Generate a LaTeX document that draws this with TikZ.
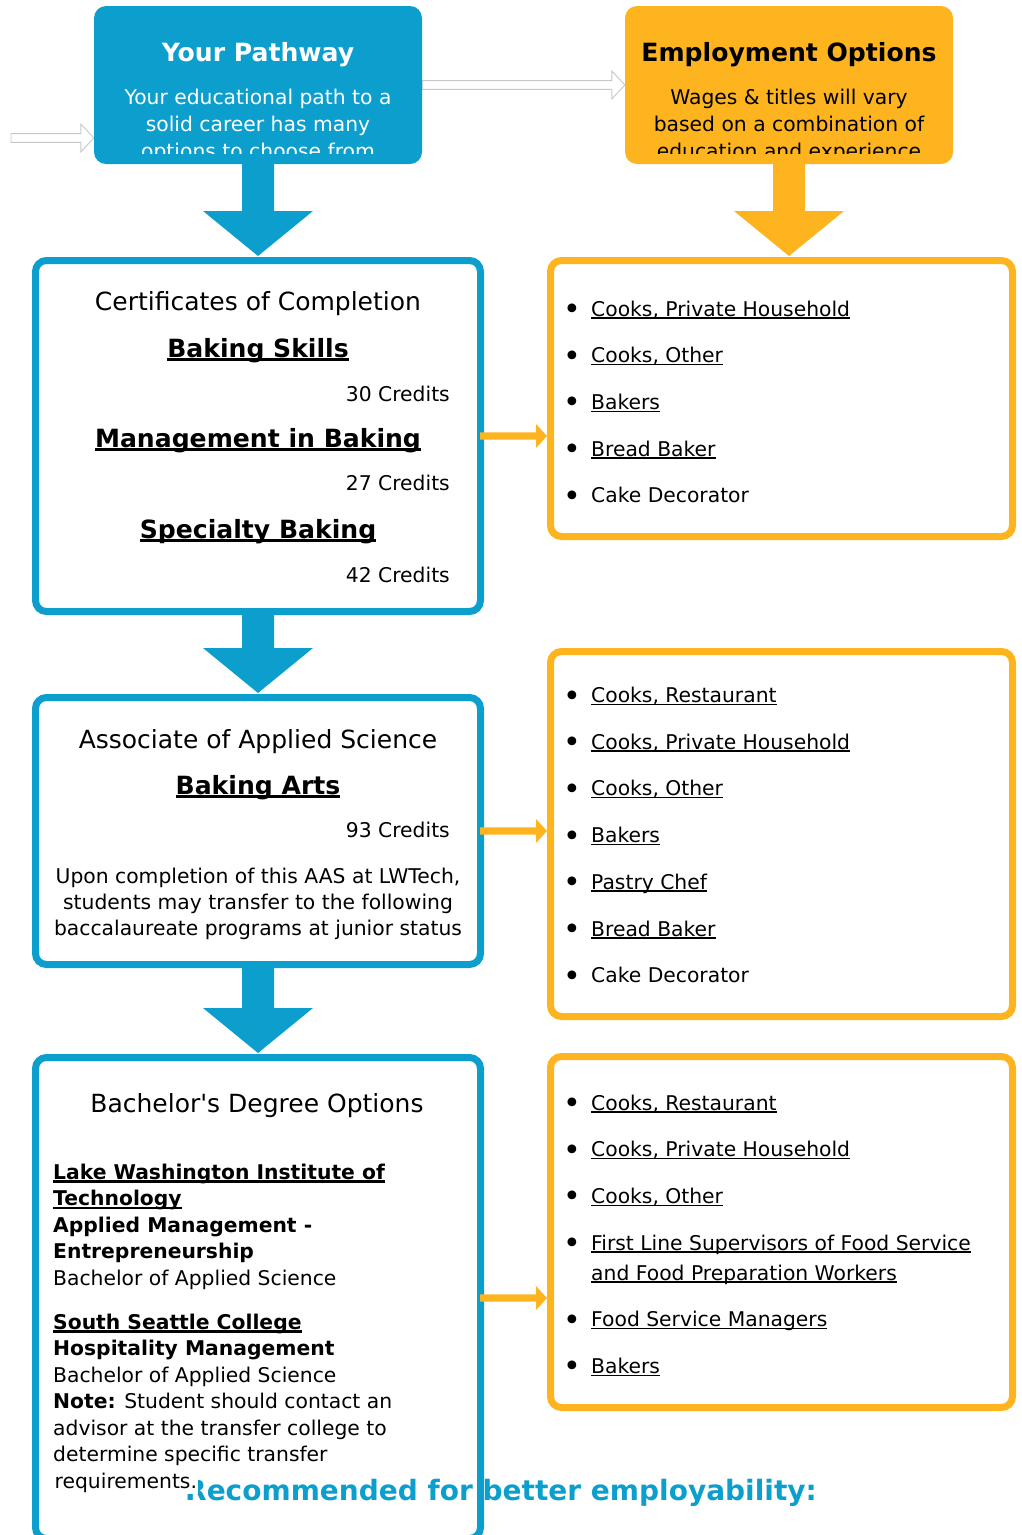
\documentclass[tikz,border=0pt]{standalone}
\usepackage{fontspec}
\setmainfont{DejaVu Sans}
\usetikzlibrary{calc}
\definecolor{pblue}{RGB}{12,159,206}
\definecolor{porange}{RGB}{253,180,31}
\definecolor{hgray}{RGB}{200,200,200}
\newcommand\ulr[1]{\setbox0=\hbox{#1}\rlap{\vrule width\wd0 height -1.1pt depth 2.5pt}\box0}
\newcommand\ulb[1]{\setbox0=\hbox{#1}\rlap{\vrule width\wd0 height -1.4pt depth 3.5pt}\box0}
\tikzset{
 ttxt/.style={inner sep=0pt, anchor=base},
 ttreg/.style={ttxt, font=\fontsize{20.3}{26}\selectfont},
 ttregb/.style={ttxt, font=\fontsize{20.3}{26}\selectfont\bfseries},
 ttbig/.style={ttxt, font=\fontsize{25}{30}\selectfont},
 ttbigb/.style={ttxt, font=\fontsize{25.1}{30}\selectfont\bfseries},
 ttbul/.style={ttxt, font=\fontsize{30}{30}\selectfont},
 bluebox/.style={rectangle, draw=pblue, line width=7pt, rounded corners=11pt, inner sep=0pt},
 orbox/.style={rectangle, draw=porange, line width=7pt, rounded corners=11pt, inner sep=0pt},
 hdrbox/.style={rectangle, rounded corners=12pt, inner sep=0pt, minimum width=328pt, minimum height=158pt},
 hollow/.style={draw=hgray, line width=0.9pt, fill=white, line join=miter},
}
\newcommand\blkdown[3]{\fill[#3] let \p1=(#1.south), \p2=(#2.north) in
  (\x1-16,\y1+1) -- (\x1+16,\y1+1) -- (\x1+16,\y2+46) -- (\x1+55,\y2+46) -- (\x1,\y2+1)
  -- (\x1-55,\y2+46) -- (\x1-16,\y2+46) -- cycle;}
\newcommand\blkright[3]{\fill[#3] let \p1=(#1.east), \p2=(#2.west) in
  (\x1-4,\y1+3.6) -- (\x2-11,\y1+3.6) -- (\x2-11,\y1+12) -- (\x2,\y1) -- (\x2-11,\y1-12)
  -- (\x2-11,\y1-3.6) -- (\x1-4,\y1-3.6) -- cycle;}
\newcommand\hollowright[2]{\draw[hollow] let \p1=(#1), \p2=(#2) in
  (\x1,\y1+4.4) -- (\x2-13,\y1+4.4) -- (\x2-13,\y1+14) -- (\x2,\y1) -- (\x2-13,\y1-14)
  -- (\x2-13,\y1-4.4) -- (\x1,\y1-4.4) -- cycle;}
\newcommand\listitem[3]{\node[ttbul] (#1b) at (572,#2-3.5) {•};
  \node[ttreg, anchor=base west] (#1) at (591,#2) {#3};}
\begin{document}
\begin{tikzpicture}[x=1pt,y=1pt]
\useasboundingbox (0,0) rectangle (1022,-1535);
\clip (0,0) rectangle (1022,-1535);
% header nodes (positions)
\coordinate (ls) at (11,-138);
\path (258,-85) node[hdrbox] (yp) {};
\path (789,-85) node[hdrbox] (op) {};
% hollow connectors (behind headers)
\hollowright{yp.east}{op.west}
\hollowright{ls}{yp.west |- ls}
% headers
\node[hdrbox, fill=pblue] (ypf) at (yp) {};
\node[hdrbox, fill=porange] (opf) at (op) {};
\node[ttbigb, text=white] (ypt) at (258,-61) {Your Pathway};
\node[ttbigb, text=black] (opt) at (789,-61) {Employment Options};
\begin{scope}
\clip (94,-6) rectangle (953,-153);
\node[ttreg, text=white] (yp1) at (258,-104) {Your educational path to a};
\node[ttreg, text=white] (yp2) at (258,-131) {solid career has many};
\node[ttreg, text=white] (yp3) at (258,-158) {options to choose from};
\node[ttreg] (op1) at (789,-104) {Wages \& titles will vary};
\node[ttreg] (op2) at (789,-131) {based on a combination of};
\node[ttreg] (op3) at (789,-158) {education and experience};
\end{scope}
% box 1
\node[ttbig] (c1) at (258,-310) {Certificates of Completion};
\node[ttbigb] (c2) at (258,-357) {\ulb{Baking Skills}};
\node[ttreg, anchor=base east] (c3) at (450,-401) {30 Credits};
\node[ttbigb] (c4) at (258,-447) {\ulb{Management in Baking}};
\node[ttreg, anchor=base east] (c5) at (450,-490) {27 Credits};
\node[ttbigb] (c6) at (258,-538) {\ulb{Specialty Baking}};
\node[ttreg, anchor=base east] (c7) at (450,-582) {42 Credits};
\node[bluebox, minimum width=445pt, minimum height=351pt] (b1) at (258,-436) {};
% box 2
\node[ttbig] (d1) at (258,-748) {Associate of Applied Science};
\node[ttbigb] (d2) at (258,-794) {\ulb{Baking Arts}};
\node[ttreg, anchor=base east] (d3) at (450,-837) {93 Credits};
\node[ttreg] (d4) at (258,-883) {Upon completion of this AAS at LWTech,};
\node[ttreg] (d5) at (258,-909) {students may transfer to the following};
\node[ttreg] (d6) at (258,-935) {baccalaureate programs at junior status};
\node[bluebox, minimum width=445pt, minimum height=267pt] (b2) at (258,-831) {};
% bottom note (under box 3 border)
\node[ttxt, anchor=base west, font=\fontsize{28}{30}\selectfont\bfseries, text=pblue] (rec) at (185,-1500) {Recommended for better employability:};
% box 3
\node[ttbig] (e0) at (257,-1112) {Bachelor\textquotesingle s Degree Options};
\node[ttregb, anchor=base west] (e1) at (53,-1179) {\ulb{Lake Washington Institute of}};
\node[ttregb, anchor=base west] (e2) at (53,-1205.5) {\ulb{Technology}};
\node[ttregb, anchor=base west] (e3) at (53,-1232) {Applied Management -};
\node[ttregb, anchor=base west] (e4) at (53,-1258) {Entrepreneurship};
\node[ttreg, anchor=base west] (e5) at (53,-1285) {Bachelor of Applied Science};
\node[ttregb, anchor=base west] (e6) at (53,-1329) {\ulb{South Seattle College}};
\node[ttregb, anchor=base west] (e7) at (53,-1355.5) {Hospitality Management};
\node[ttreg, anchor=base west] (e8) at (53,-1382) {Bachelor of Applied Science};
\node[ttreg, anchor=base west] (e9) at (53,-1408) {\textbf{Note:} Student should contact an};
\node[ttreg, anchor=base west] (e10) at (53,-1435) {advisor at the transfer college to};
\node[ttreg, anchor=base west] (e11) at (53,-1461.5) {determine specific transfer};
\node[ttreg, anchor=base west, fill=white, inner sep=1.5pt] (e12) at (53,-1488) {requirements.};
\node[bluebox, minimum width=445pt, minimum height=481pt] (b3) at (258,-1298) {};
% orange boxes
\node[orbox, minimum width=462pt, minimum height=276pt] (o1) at (781.5,-398.5) {};
\node[orbox, minimum width=462pt, minimum height=365pt] (o2) at (781.5,-834) {};
\node[orbox, minimum width=462pt, minimum height=351pt] (o3) at (781.5,-1232) {};
\listitem{fa}{-316}{\ulr{Cooks, Private Household}}
\listitem{fb}{-362.7}{\ulr{Cooks, Other}}
\listitem{fc}{-409.4}{\ulr{Bakers}}
\listitem{fd}{-456}{\ulr{Bread Baker}}
\listitem{fe}{-502.7}{Cake Decorator}
\listitem{ga}{-702.5}{\ulr{Cooks, Restaurant}}
\listitem{gb}{-749.2}{\ulr{Cooks, Private Household}}
\listitem{gc}{-795.9}{\ulr{Cooks, Other}}
\listitem{gd}{-842.6}{\ulr{Bakers}}
\listitem{ge}{-889.3}{\ulr{Pastry Chef}}
\listitem{gf}{-936}{\ulr{Bread Baker}}
\listitem{gg}{-982.7}{Cake Decorator}
\listitem{ha}{-1110}{\ulr{Cooks, Restaurant}}
\listitem{hb}{-1156.7}{\ulr{Cooks, Private Household}}
\listitem{hc}{-1203.4}{\ulr{Cooks, Other}}
\listitem{hd}{-1250}{\ulr{First Line Supervisors of Food Service}}
\node[ttreg, anchor=base west] (hd2) at (591,-1280) {\ulr{and Food Preparation Workers}};
\listitem{he}{-1326.7}{\ulr{Food Service Managers}}
\listitem{hf}{-1373.4}{\ulr{Bakers}}
% block arrows
\blkdown{yp}{b1}{pblue}
\blkdown{b1}{b2}{pblue}
\blkdown{b2}{b3}{pblue}
\blkdown{op}{o1}{porange}
\blkright{b1}{o1}{porange}
\blkright{b2}{o2}{porange}
\blkright{b3}{o3}{porange}
\end{tikzpicture}
\end{document}
